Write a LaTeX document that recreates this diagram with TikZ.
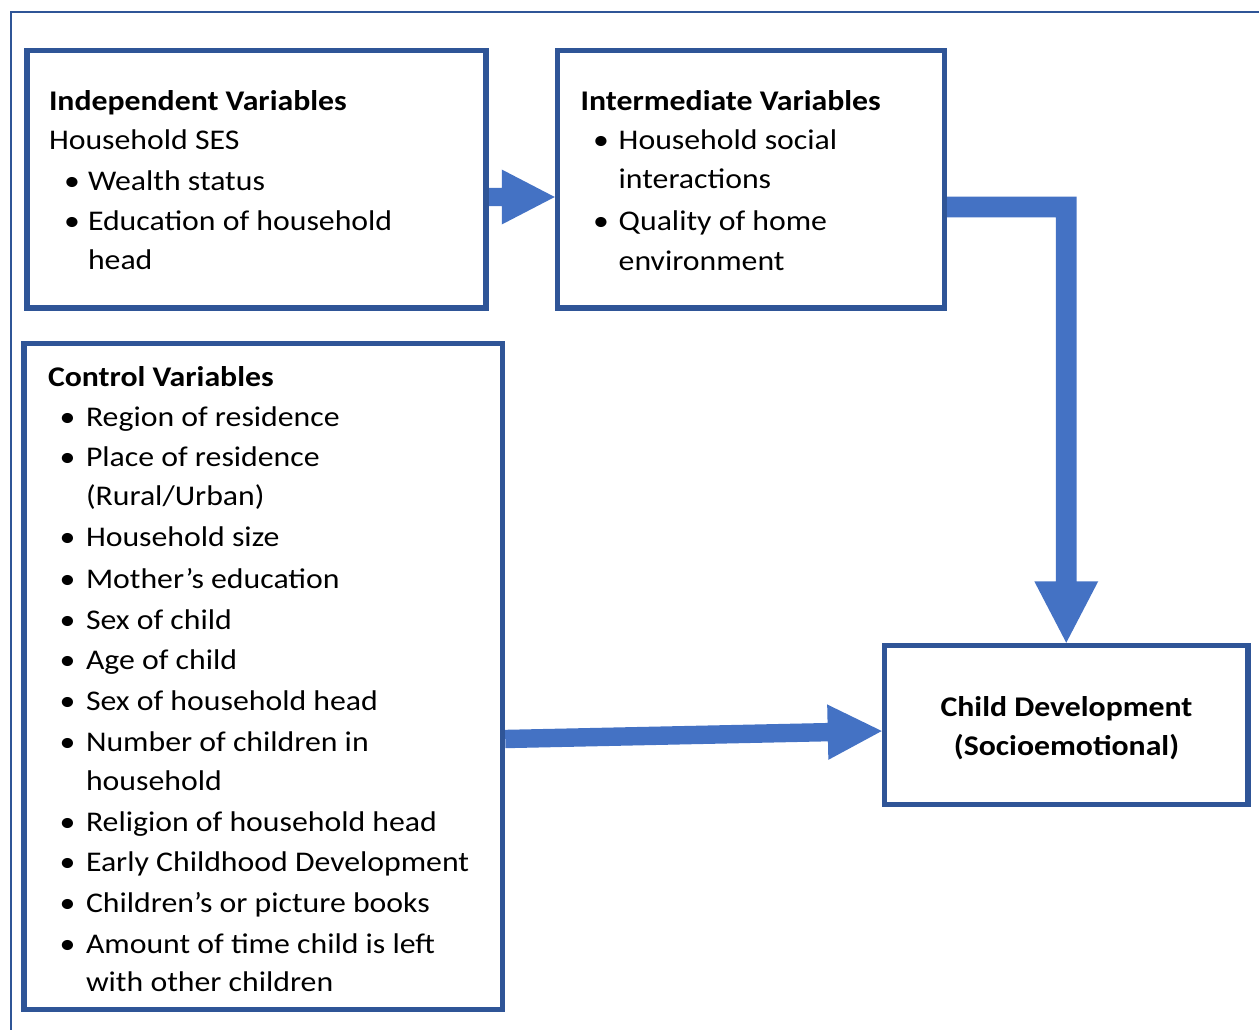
\documentclass[tikz,border=0pt]{standalone}
\usepackage{fontspec}
\setmainfont{Carlito}[FakeStretch=1.115]
\usetikzlibrary{calc}
\definecolor{boxc}{HTML}{2F5597}
\definecolor{arrowc}{HTML}{4472C4}
\newcommand\myblockarrow[5]{%
  \coordinate (hb) at ($(#2)!#5!(#1)$);
  \fill[arrowc] ($(#1)!#3!90:(#2)$) -- ($(hb)!#3!90:(#2)$) -- ($(hb)!#4!90:(#2)$) -- (#2)
    -- ($(hb)!#4!-90:(#2)$) -- ($(hb)!#3!-90:(#2)$) -- ($(#1)!#3!-90:(#2)$) -- cycle;}
\tikzset{
  box/.style={draw=boxc, line width=5.5pt, fill=white, inner sep=0pt, rectangle},
  txt/.style={font=\fontsize{28.5pt}{34pt}\selectfont, inner sep=0pt, outer sep=0pt, anchor=base west},
  btxt/.style={txt, font=\fontsize{28.5pt}{34pt}\selectfont\bfseries},
  bul/.style={txt, anchor=base},
  frame/.style={draw=boxc, line width=2pt}
}
\begin{document}
\begin{tikzpicture}[x=1pt, y=-1pt]
\useasboundingbox (0,0) rectangle (1259,1030);
% outer frame
\coordinate (fb) at (10.5,1045);
\coordinate (fc) at (10.5,12);
\coordinate (fr) at (1275,12);
\draw[frame] (fb) -- (fc) -- (fr);

% boxes
\node[box, minimum width=459pt, minimum height=257.5pt] (indep) at (256.5,179.25) {};
\node[box, minimum width=387pt, minimum height=257.5pt] (inter) at (751,179.25) {};
\node[box, minimum width=478.5pt, minimum height=666pt] (ctrl) at (263.25,676.5) {};
\node[box, minimum width=363.5pt, minimum height=159pt] (child) at (1066.25,725) {};

% arrow 1: independent -> intermediate
\coordinate (a1s) at (indep.east |- 0,197);
\coordinate (a1t) at (inter.west |- 0,197);
\myblockarrow{a1s}{a1t}{9pt}{27.5pt}{53pt}

% arrow 2: intermediate -> child (elbow)
\coordinate (e0) at ($(inter.east |- 0,207)+(-2,0)$);
\coordinate (tip2) at (child.north);
\coordinate (corner) at (tip2 |- e0);
\fill[arrowc] ($(e0)+(0,-10.3)$) -- ($(corner)+(10.3,-10.3)$) -- ($(tip2)+(10.3,-61.5)$)
  -- ($(tip2)+(32,-61.5)$) -- (tip2) -- ($(tip2)+(-32,-61.5)$) -- ($(tip2)+(-10.3,-61.5)$)
  -- ($(corner)+(-10.3,10.3)$) -- ($(e0)+(0,10.3)$) -- cycle;

% arrow 3: control -> child
\coordinate (a3s) at (ctrl.east |- 0,739);
\coordinate (a3t) at (child.west |- 0,731);
\myblockarrow{a3s}{a3t}{9.2pt}{27.7pt}{54pt}

% redraw box outlines over arrow roots
\draw[draw=boxc, line width=5.5pt] (indep.south east) ++(-2.75,-2.75) -- ++(0,-252);
\draw[draw=boxc, line width=5.5pt] (inter.north east) ++(-2.75,2.75) -- ++(0,252);

% independent text
\node[btxt] (i0) at (49,110.7) {Independent Variables};
\node[txt] (i1) at (49,150) {Household SES};
\node[bul] (ib1) at (72,190) {•};
\node[txt] (i2) at (88,190) {Wealth status};
\node[bul] (ib2) at (72,230.7) {•};
\node[txt] (i3) at (88,230.7) {Education of household};
\node[txt] (i4) at (88,269.3) {head};

% intermediate text
\node[btxt] (m0) at (580.7,110.7) {Intermediate Variables};
\node[bul] (mb1) at (601,150) {•};
\node[txt] (m1) at (618.7,150) {Household social};
\node[txt] (m2) at (618.7,189) {interactions};
\node[bul] (mb2) at (601,230) {•};
\node[txt] (m3) at (618.7,230) {Quality of home};
\node[txt] (m4) at (618.7,270) {environment};

% control text
\node[btxt] (c0) at (48,386.7) {Control Variables};
\foreach \y/\t [count=\i] in {426.7/{Region of residence}, 466.7/{Place of residence},
  505/{(Rural/Urban)}, 546.7/{Household size}, 588.3/{Mother’s education},
  629.3/{Sex of child}, 669/{Age of child}, 710/{Sex of household head},
  751/{Number of children in}, 790/{household}, 831.7/{Religion of household head},
  871.7/{Early Childhood Development}, 912.7/{Children’s or picture books},
  953.3/{Amount of time child is left}, 991.7/{with other children}}
  \node[txt] (c\i) at (86,\y) {\t};
\foreach \y [count=\i] in {426.7,466.7,546.7,588.3,629.3,669,710,751,831.7,871.7,912.7,953.3}
  \node[bul] (cb\i) at (67.5,\y) {•};

% child text
\node[btxt, anchor=base] (d1) at (1066.5,716.7) {Child Development};
\node[btxt, anchor=base] (d2) at (1066.5,755) {(Socioemotional)};
\end{tikzpicture}
\end{document}
